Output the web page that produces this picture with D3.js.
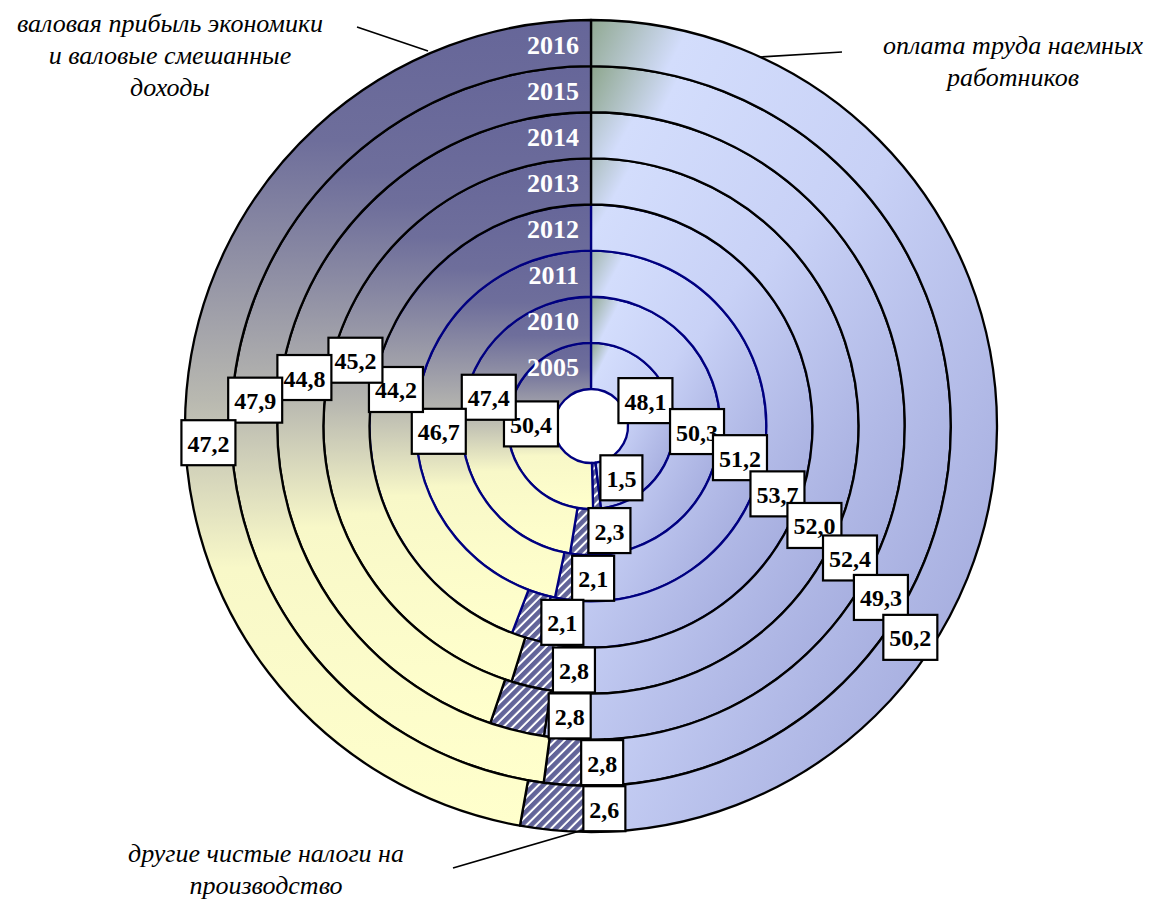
<!DOCTYPE html>
<html>
<head>
<meta charset="utf-8">
<script src="https://cdn.jsdelivr.net/npm/d3@7"></script>
<style>
  body { margin: 0; background: #fff; }
  svg { display: block; }
</style>
</head>
<body>
<div id="chart"></div>
<script>
// rings from the inside out
var years = ["2005", "2010", "2011", "2012", "2013", "2014", "2015", "2016"];
var compensation = [48.1, 50.3, 51.2, 53.7, 52.0, 52.4, 49.3, 50.2];
var otherTaxes   = [1.5, 2.3, 2.1, 2.1, 2.8, 2.8, 2.8, 2.6];
var grossProfit  = [50.4, 47.4, 46.7, 44.2, 45.2, 44.8, 47.9, 47.2];
var seriesKeys = ["comp", "tax", "profit"];

// hand placed label angles (degrees, clockwise from 12 o'clock), as in the original
var compLabelAngle   = [65, 93, 102, 110, 114, 117, 120.6, 123.5];
var taxLabelAngle    = [149.6, 170, 179.2, 188.3, 184, 184.2, 178.1, 178];
var profitLabelAngle = [272, 285.7, 268, 280.6, 285.6, 279.6, 274.4, 267.5];

var width = 1152,
    height = 908,
    cx = 591,
    cy = 426;

var serif = "'Times New Roman', 'Liberation Serif', serif";

var svg = d3.select("#chart").append("svg")
    .attr("width", width)
    .attr("height", height);

var defs = svg.append("defs");

// gradient for "оплата труда" - greenish corner, light blue, darker blue
var gComp = defs.append("linearGradient")
    .attr("id", "gradComp")
    .attr("x1", 0).attr("y1", 0).attr("x2", 1).attr("y2", 1);
[[0, "#8da68c"], [0.13, "#d3ddfc"], [0.45, "#c8d1f6"], [1, "#989fd5"]].forEach(function(s) {
  gComp.append("stop").attr("offset", s[0]).attr("stop-color", s[1]);
});

// gradient for "валовая прибыль" - purple top to pale yellow bottom
var gProf = defs.append("linearGradient")
    .attr("id", "gradProfit")
    .attr("x1", 0).attr("y1", 0).attr("x2", 0).attr("y2", 1);
[[0, "#666699"], [0.15, "#6e6e9b"], [0.47, "#b8b8b0"], [0.68, "#f8f8c8"], [1, "#ffffcc"]].forEach(function(s) {
  gProf.append("stop").attr("offset", s[0]).attr("stop-color", s[1]);
});

// hatch for taxes
var hatch = defs.append("pattern")
    .attr("id", "hatch")
    .attr("patternUnits", "userSpaceOnUse")
    .attr("width", 6.6).attr("height", 6.6)
    .attr("patternTransform", "rotate(45)");
hatch.append("rect").attr("width", 6.6).attr("height", 6.6).attr("fill", "#626499");
hatch.append("rect").attr("x", 4.6).attr("width", 2).attr("height", 6.6).attr("fill", "#fff");

var fills = { comp: "url(#gradComp)", tax: "url(#hatch)", profit: "url(#gradProfit)" };

var ring = d3.scaleBand().domain(years).range([37, 406]).paddingInner(0);
var pie = d3.pie().sort(null).value(function(d) { return d.value; });
var arc = d3.arc();

var g = svg.append("g").attr("transform", "translate(" + cx + "," + cy + ")");

years.forEach(function(year, i) {
  var vals = [compensation[i], otherTaxes[i], grossProfit[i]];
  var data = seriesKeys.map(function(k, j) { return { key: k, value: vals[j] }; });
  var r0 = ring(year),
      r1 = r0 + ring.bandwidth();
  var stroke = i < 4 ? "#000080" : "#000";

  g.append("g")
    .attr("class", "ring")
    .selectAll("path")
    .data(pie(data))
    .enter().append("path")
    .attr("d", function(d) { return arc.innerRadius(r0).outerRadius(r1)(d); })
    .attr("fill", function(d) { return fills[d.data.key]; })
    .attr("stroke", stroke)
    .attr("stroke-width", 2.3)
    .attr("stroke-linejoin", "round");
});

// year names along 12 o'clock
g.append("g")
  .selectAll("text")
  .data(years)
  .enter().append("text")
  .attr("x", -12)
  .attr("y", function(d) { return -(ring(d) + ring.bandwidth() / 2) + 2; })
  .attr("text-anchor", "end")
  .attr("dominant-baseline", "central")
  .attr("fill", "#fff")
  .attr("font-family", serif)
  .attr("font-weight", "bold")
  .attr("font-size", 26)
  .text(function(d) { return d; });

// value labels
var fmt = function(v) { return d3.format(".1f")(v).replace(".", ","); };
var labels = [];
years.forEach(function(year, i) {
  var rm = ring(year) + ring.bandwidth() / 2;
  labels.push({ v: compensation[i], a: compLabelAngle[i], r: rm });
  labels.push({ v: otherTaxes[i], a: taxLabelAngle[i], r: rm });
  labels.push({ v: grossProfit[i], a: profitLabelAngle[i], r: rm });
});

var lab = g.append("g")
  .selectAll("g")
  .data(labels)
  .enter().append("g")
  .attr("transform", function(d) {
    var a = d.a * Math.PI / 180;
    return "translate(" + (d.r * Math.sin(a)) + "," + (-d.r * Math.cos(a)) + ")";
  });

lab.append("rect")
  .attr("fill", "#fff")
  .attr("stroke", "#000")
  .attr("stroke-width", 2.2);

var texts = lab.append("text")
  .attr("text-anchor", "middle")
  .attr("dominant-baseline", "central")
  .attr("y", 1)
  .attr("font-family", serif)
  .attr("font-weight", "bold")
  .attr("font-size", 24)
  .text(function(d) { return fmt(d.v); });

texts.each(function() {
  var w = this.getComputedTextLength() + 12;
  d3.select(this.parentNode).select("rect")
    .attr("x", -w / 2).attr("y", -22.5)
    .attr("width", w).attr("height", 45);
});

// series annotations with leader lines
var notes = [
  { lines: ["валовая прибыль экономики", "и валовые смешанные", "доходы"], x: 170, y: 32, line: [357, 27, 428, 51] },
  { lines: ["оплата труда наемных", "работников"], x: 1013, y: 54, line: [760, 57, 842, 52] },
  { lines: ["другие чистые налоги на", "производство"], x: 266, y: 862, line: [453, 868, 583, 830] }
];

notes.forEach(function(n) {
  var t = svg.append("text")
    .attr("font-family", serif)
    .attr("font-style", "italic")
    .attr("font-size", 26)
    .attr("text-anchor", "middle")
    .attr("fill", "#000");
  n.lines.forEach(function(l, k) {
    t.append("tspan").attr("x", n.x).attr("y", n.y + k * 32).text(l);
  });
  svg.append("line")
    .attr("x1", n.line[0]).attr("y1", n.line[1])
    .attr("x2", n.line[2]).attr("y2", n.line[3])
    .attr("stroke", "#000")
    .attr("stroke-width", 1.6);
});
</script>
</body>
</html>
